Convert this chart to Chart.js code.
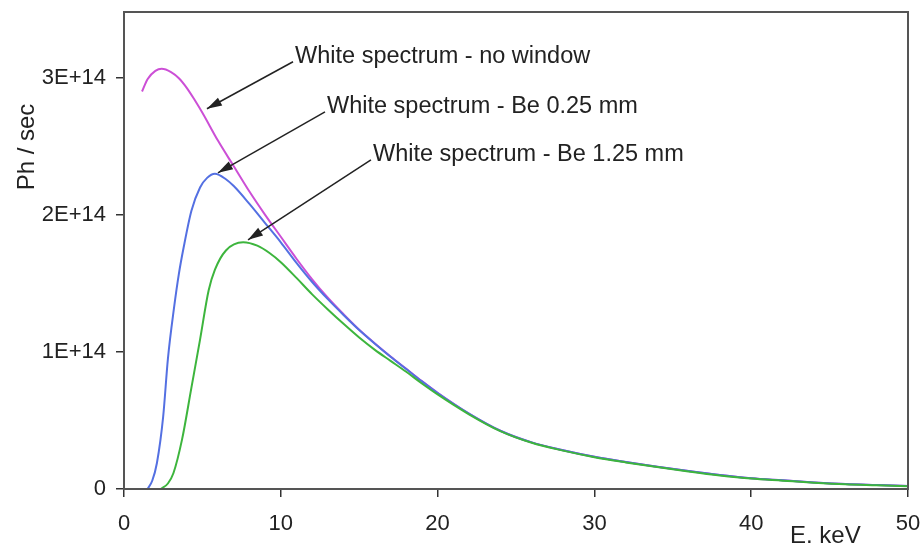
<!DOCTYPE html>
<html>
<head>
<meta charset="utf-8">
<script src="https://cdn.jsdelivr.net/npm/chart.js@4"></script>
<style>
body{margin:0;background:#fff}
#wrap{width:921px;height:546px;position:relative}
</style>
</head>
<body>
<div id="wrap"><canvas id="grafico"></canvas></div>
<script>
// Espectro blanco - sin ventana
const sinVentanaE = [1.15,1.5,2.0,2.4,3.0,3.5,4.0,4.5,5.0,6.0,7.0,8.0,9.0,10,11,12,13,14,15,16,17,18,19,20,22,24,26,28,30,32,34,36,38,40,42,44,46,48,50];
const sinVentanaPh = [2.90,2.99,3.05,3.066,3.042,2.997,2.927,2.84,2.745,2.54,2.355,2.17,2.0,1.84,1.68,1.53,1.395,1.275,1.162,1.062,0.967,0.877,0.787,0.702,0.55,0.425,0.34,0.283,0.235,0.197,0.163,0.131,0.102,0.078,0.063,0.048,0.036,0.029,0.022];

// Espectro blanco - Be 0.25 mm
const be025E = [1.5,1.8,2.1,2.5,2.8,3.2,3.5,3.8,4.3,4.85,5.3,5.8,6.5,7.0,8.0,9.0,10,11,12,13,14,15,16,17,18,19,20,22,24,26,28,30,32,34,36,38,40,42,44,46,48,50];
const be025Ph = [0,0.06,0.19,0.53,0.95,1.33,1.57,1.76,2.03,2.20,2.27,2.30,2.26,2.21,2.08,1.94,1.80,1.65,1.51,1.385,1.27,1.16,1.06,0.965,0.875,0.785,0.70,0.55,0.425,0.34,0.283,0.235,0.197,0.163,0.131,0.102,0.078,0.063,0.048,0.036,0.029,0.022];

// Espectro blanco - Be 1.25 mm
const be125E = [2.35,2.8,3.15,3.7,4.3,4.85,5.4,5.8,6.5,7.6,8.5,9.3,10,11,12,13,14,15,16,17,18,19,20,22,24,26,28,30,32,34,36,38,40,42,44,46,48,50];
const be125Ph = [0,0.04,0.115,0.36,0.74,1.09,1.45,1.60,1.74,1.80,1.775,1.72,1.655,1.54,1.42,1.31,1.205,1.105,1.015,0.935,0.855,0.77,0.69,0.545,0.422,0.337,0.28,0.232,0.194,0.16,0.128,0.099,0.076,0.061,0.046,0.034,0.027,0.02];

const ticksX = [0,10,20,30,40,50];
const ticksY = [0,1e14,2e14,3e14];

// Notas con flecha (coordenadas en keV y Ph/sec)
const notasTexto = ["White spectrum - no window","White spectrum - Be 0.25 mm","White spectrum - Be 1.25 mm"];
const notasInicio = [[10.78,3.117e14],[12.82,2.752e14],[15.75,2.401e14]];
const notasPunta = [[5.29,2.774e14],[5.99,2.307e14],[7.91,1.818e14]];

const FUENTE = "'Liberation Sans', Arial, sans-serif";

const puntos = (xs, ys) => xs.map((x, i) => ({x: x, y: ys[i] * 1e14}));

const serie = (datos, color) => ({
  data: datos,
  borderColor: color,
  backgroundColor: color,
  borderWidth: 2,
  pointRadius: 0,
  fill: false,
  cubicInterpolationMode: 'monotone'
});

// Marco, notas y titulos de ejes
const extras = {
  id: 'extras',
  afterDraw(chart) {
    const ctx = chart.ctx;
    const a = chart.chartArea;
    const sx = chart.scales.x, sy = chart.scales.y;
    ctx.save();
    ctx.strokeStyle = '#555';
    ctx.lineWidth = 2;
    ctx.strokeRect(a.left, a.top, a.right - a.left, a.bottom - a.top);

    ctx.strokeStyle = '#222';
    ctx.fillStyle = '#222';
    ctx.lineWidth = 1.5;
    ctx.font = '23.5px ' + FUENTE;
    ctx.textBaseline = 'alphabetic';
    notasTexto.forEach((t, i) => {
      const x0 = sx.getPixelForValue(notasInicio[i][0]);
      const y0 = sy.getPixelForValue(notasInicio[i][1]);
      const x1 = sx.getPixelForValue(notasPunta[i][0]);
      const y1 = sy.getPixelForValue(notasPunta[i][1]);
      ctx.beginPath();
      ctx.moveTo(x0, y0);
      ctx.lineTo(x1, y1);
      ctx.stroke();
      const ang = Math.atan2(y1 - y0, x1 - x0);
      const L = 15, W = 4.5;
      ctx.beginPath();
      ctx.moveTo(x1, y1);
      ctx.lineTo(x1 - L * Math.cos(ang) + W * Math.sin(ang), y1 - L * Math.sin(ang) - W * Math.cos(ang));
      ctx.lineTo(x1 - L * Math.cos(ang) - W * Math.sin(ang), y1 - L * Math.sin(ang) + W * Math.cos(ang));
      ctx.closePath();
      ctx.fill();
      ctx.fillText(t, x0 + 2, y0 + 1);
    });

    ctx.font = '24px ' + FUENTE;
    ctx.textAlign = 'left';
    ctx.fillText('E. keV', 790, 543);

    ctx.translate(34, 147);
    ctx.rotate(-Math.PI / 2);
    ctx.textAlign = 'center';
    ctx.fillText('Ph / sec', 0, 0);
    ctx.restore();
  }
};

const grafico = new Chart(
  document.querySelector('#grafico'),
  {
    type: 'line',
    data: {
      datasets: [
        serie(puntos(be125E, be125Ph), '#3db53d'),
        serie(puntos(be025E, be025Ph), '#5470e2'),
        serie(puntos(sinVentanaE, sinVentanaPh), '#cc4fd6')
      ]
    },
    options: {
      responsive: true,
      maintainAspectRatio: false,
      animation: false,
      layout: {padding: {top: 12, right: 13, left: 0, bottom: 0}},
      plugins: {legend: {display: false}, tooltip: {enabled: false}},
      scales: {
        x: {
          type: 'linear',
          min: 0,
          max: 50,
          afterFit: (s) => { s.height = 57; s.paddingLeft = 0; s.paddingRight = 0; },
          afterBuildTicks: (s) => { s.ticks = ticksX.map(v => ({value: v})); },
          ticks: {font: {size: 22, family: FUENTE}, color: '#222', padding: 14, maxRotation: 0},
          grid: {drawOnChartArea: false, drawTicks: true, tickLength: 8, color: '#333', lineWidth: 1.5},
          border: {color: '#555', width: 2}
        },
        y: {
          min: 0,
          max: 3.48e14,
          afterFit: (s) => { s.width = 124; s.paddingTop = 0; s.paddingBottom = 0; },
          afterBuildTicks: (s) => { s.ticks = ticksY.map(v => ({value: v})); },
          ticks: {
            font: {size: 22, family: FUENTE},
            color: '#222',
            padding: 10,
            callback: (v) => v === 0 ? '0' : Math.round(v / 1e14) + 'E+14'
          },
          grid: {drawOnChartArea: false, drawTicks: true, tickLength: 8, color: '#333', lineWidth: 1.5},
          border: {color: '#555', width: 2}
        }
      }
    },
    plugins: [extras]
  }
);
</script>
</body>
</html>
